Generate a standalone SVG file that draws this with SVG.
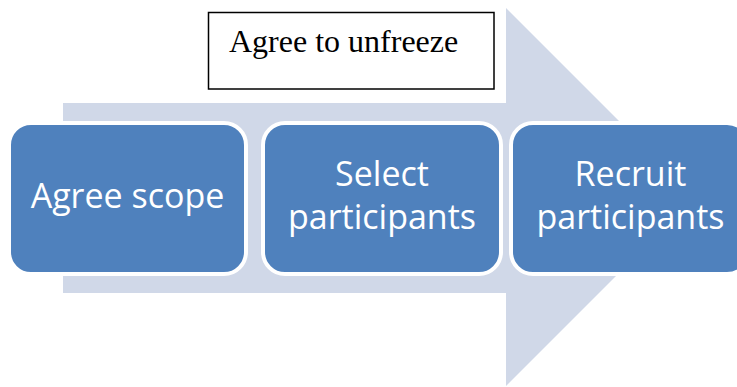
<svg xmlns="http://www.w3.org/2000/svg" width="737" height="387" viewBox="0 0 737 387">
<style>
.step{fill:#4F81BD;stroke:#FFFFFF;stroke-width:4}
.lbl{font-family:"Open Sans","Noto Sans",sans-serif;font-size:34px;fill:#FFFFFF;text-anchor:middle}
.note{font-family:"Liberation Serif","Times New Roman",serif;font-size:32px;fill:#000000}
</style>
<rect width="737" height="387" fill="#FFFFFF"/>
<g id="arrow">
<polygon points="63,103 506,103 506,8 695,197 506,386 506,293 63,293" fill="#D0D8E8"/>
</g>
<g id="connectors"></g>
<g id="node-agree-scope">
<rect class="step" x="9" y="123" width="237" height="151" rx="22" ry="22"/>
<text class="lbl" x="127.5" y="208">Agree scope</text>
</g>
<g id="node-select">
<rect class="step" x="263" y="123" width="238" height="151" rx="22" ry="22"/>
<text class="lbl" x="382" y="186">Select</text>
<text class="lbl" x="382" y="229">participants</text>
</g>
<g id="node-recruit">
<rect class="step" x="511" y="123" width="238" height="151" rx="22" ry="22"/>
<text class="lbl" x="630.5" y="186">Recruit</text>
<text class="lbl" x="630.5" y="229">participants</text>
</g>
<g id="node-unfreeze">
<rect x="208.5" y="12.5" width="285.5" height="76.5" fill="#FFFFFF" stroke="#000000" stroke-width="1.5"/>
<text class="note" x="229" y="52">Agree to unfreeze</text>
</g>
</svg>
